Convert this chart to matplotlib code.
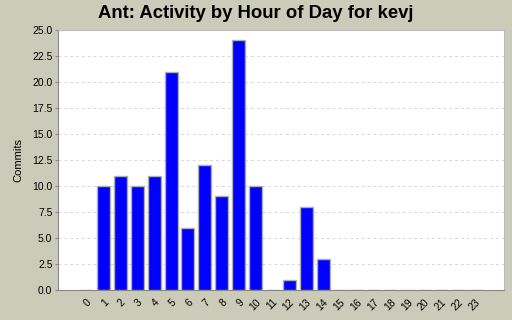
import matplotlib
matplotlib.use("Agg")
import matplotlib.pyplot as plt
import matplotlib.transforms as mtransforms

hours = [str(h) for h in range(24)]
commits = [0, 10, 11, 10, 11, 21, 6, 12, 9, 24, 10, 0, 1, 8, 3, 0, 0, 0, 0, 0, 0, 0, 0, 0]
yticks = [0, 2.5, 5, 7.5, 10, 12.5, 15, 17.5, 20, 22.5, 25]

plt.rcParams['font.family'] = ['Liberation Sans', 'DejaVu Sans']
bg = '#cbcbb9'
fig = plt.figure(figsize=(5.12, 3.2), dpi=100, facecolor=bg)
ax = fig.add_axes([58/512, 30/320, 446/512, 260/320])
ax.set_facecolor('white')
x = list(range(len(hours)))
ax.bar(x, commits, width=0.77, color='#0000ff', edgecolor='#b0b0b0', linewidth=1.0, zorder=3)
ax.set_xlim(-1.69, 24.7)
ax.set_ylim(0, 25)
ax.set_yticks(yticks)
ax.set_yticklabels([f"{v:.1f}" for v in yticks], fontsize=7.5)
ax.set_xticks(x)
ax.set_xticklabels(hours, fontsize=7.5, rotation=45, ha='right')
ax.tick_params(axis='x', length=0, pad=5)
offset = mtransforms.ScaledTranslation(7/100, 0, fig.dpi_scale_trans)
for lbl in ax.get_xticklabels():
    lbl.set_transform(lbl.get_transform() + offset)
ax.tick_params(axis='y', length=2, color='#888888', pad=2)
ax.yaxis.grid(True, linestyle=(0, (3, 3)), color='#d8d8d8', linewidth=0.7, zorder=0)
for s in ['left', 'bottom']:
    ax.spines[s].set_color('#888888')
for s in ['top', 'right']:
    ax.spines[s].set_color('#bbbbbb')
ax.set_ylabel('Commits', fontsize=8, labelpad=6)
fig.text(0.5, 1 - 14/320, 'Ant: Activity by Hour of Day for kevj', fontsize=13.3,
         fontweight='bold', ha='center', va='center')
fig.savefig('out.png', dpi=100, facecolor=bg)
